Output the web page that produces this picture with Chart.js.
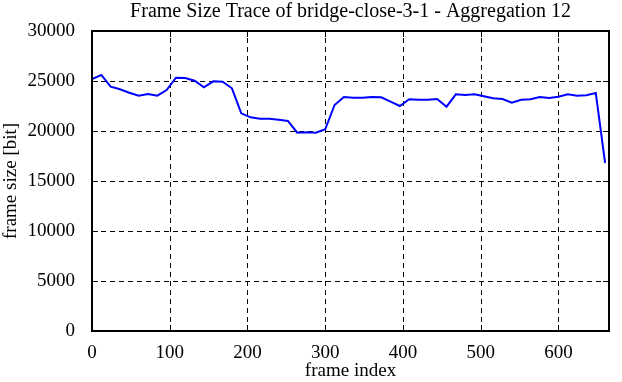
<!DOCTYPE html>
<html>
<head>
<meta charset="utf-8">
<script src="https://cdn.jsdelivr.net/npm/chart.js@4"></script>
<style>
html,body{margin:0;padding:0;background:#fff;}
#wrap{width:622px;height:382px;position:relative;}
</style>
</head>
<body>
<div id="wrap"><canvas id="c" width="622" height="382"></canvas></div>
<script>
const frameIndex = [0,12,24,36,48,60,72,84,96,108,120,132,144,156,168,180,192,204,216,228,240,252,264,276,288,300,312,324,336,348,360,372,384,396,408,420,432,444,456,468,480,492,504,516,528,540,552,564,576,588,600,612,624,636,648,660];
const frameSize = [25200,25600,24430,24170,23830,23530,23700,23530,24100,25330,25300,25030,24370,24970,24930,24270,21770,21370,21230,21230,21130,21000,19830,19870,19830,20170,22600,23400,23330,23330,23400,23370,22930,22500,23170,23130,23130,23200,22430,23670,23600,23670,23470,23270,23200,22830,23130,23170,23400,23300,23430,23670,23530,23570,23800,16800];
const xTicks = [0,100,200,300,400,500,600];
const yTicks = [0,5000,10000,15000,20000,25000,30000];
const titleText = 'Frame Size Trace of bridge-close-3-1 - Aggregation 12';
const xLabel = 'frame index';
const yLabel = 'frame size [bit]';

const FONT = "'Liberation Serif', 'DejaVu Serif', serif";
const FS = 19;

const frame = {
  id: 'frame',
  beforeDatasetsDraw(chart) {
    const {ctx, chartArea: a, scales} = chart;
    ctx.save();
    ctx.strokeStyle = '#000';
    ctx.lineWidth = 1;
    ctx.setLineDash([5, 4]);
    ctx.beginPath();
    xTicks.forEach(v => {
      if (v === 0) return;
      const x = Math.round(scales.x.getPixelForValue(v)) + 0.5;
      ctx.moveTo(x, a.bottom); ctx.lineTo(x, a.top);
    });
    yTicks.forEach(v => {
      if (v === 0 || v === 30000) return;
      const y = Math.round(scales.y.getPixelForValue(v)) + 0.5;
      ctx.moveTo(a.left, y); ctx.lineTo(a.right, y);
    });
    ctx.stroke();
    ctx.restore();
  },
  afterDraw(chart) {
    const {ctx, chartArea: a, scales} = chart;
    ctx.save();
    ctx.strokeStyle = '#000';
    ctx.lineWidth = 1;
    const tl = 6;
    ctx.beginPath();
    xTicks.forEach(v => {
      const x = Math.round(scales.x.getPixelForValue(v)) + 0.5;
      ctx.moveTo(x, a.bottom); ctx.lineTo(x, a.bottom - tl);
      ctx.moveTo(x, a.top); ctx.lineTo(x, a.top + tl);
    });
    yTicks.forEach(v => {
      const y = Math.round(scales.y.getPixelForValue(v)) + 0.5;
      ctx.moveTo(a.left, y); ctx.lineTo(a.left + tl, y);
      ctx.moveTo(a.right, y); ctx.lineTo(a.right - tl, y);
    });
    ctx.stroke();
    ctx.lineWidth = 2;
    ctx.strokeRect(a.left, a.top, a.right - a.left, a.bottom - a.top);
    ctx.restore();
  }
};

new Chart(document.getElementById('c'), {
  type: 'line',
  data: {
    datasets: [{
      data: frameIndex.map((x, i) => ({x: x, y: frameSize[i]})),
      borderColor: '#0000ff',
      borderWidth: 2,
      pointRadius: 0,
      tension: 0,
      fill: false
    }]
  },
  options: {
    responsive: false,
    animation: false,
    layout: {padding: {left: 0, right: 13, top: 0, bottom: 0}},
    plugins: {
      legend: {display: false},
      tooltip: {enabled: false},
      title: {
        display: true,
        fullSize: false,
        text: titleText,
        color: '#000',
        font: {family: FONT, size: 20, weight: 'normal', lineHeight: 1.2},
        padding: {top: 0, bottom: 31 - 24}
      }
    },
    scales: {
      x: {
        type: 'linear',
        min: 0,
        max: 665,
        afterBuildTicks(s) { s.ticks = xTicks.map(v => ({value: v})); },
        afterFit(s) { s.height = 51; },
        ticks: {
          color: '#000',
          font: {family: FONT, size: FS},
          padding: 3,
          maxRotation: 0,
          callback: v => String(v)
        },
        grid: {display: false},
        border: {display: false},
        title: {
          display: true,
          text: xLabel,
          color: '#000',
          font: {family: FONT, size: FS},
          padding: {top: 0, bottom: 0}
        }
      },
      y: {
        type: 'linear',
        min: 0,
        max: 30000,
        afterBuildTicks(s) { s.ticks = yTicks.map(v => ({value: v})); },
        afterFit(s) { s.width = 92; },
        ticks: {
          color: '#000',
          font: {family: FONT, size: FS},
          padding: 9,
          callback: v => String(v)
        },
        grid: {display: false},
        border: {display: false},
        title: {
          display: true,
          text: yLabel,
          color: '#000',
          font: {family: FONT, size: FS},
          padding: {top: 0, bottom: 0}
        }
      }
    }
  },
  plugins: [frame]
});
</script>
</body>
</html>
